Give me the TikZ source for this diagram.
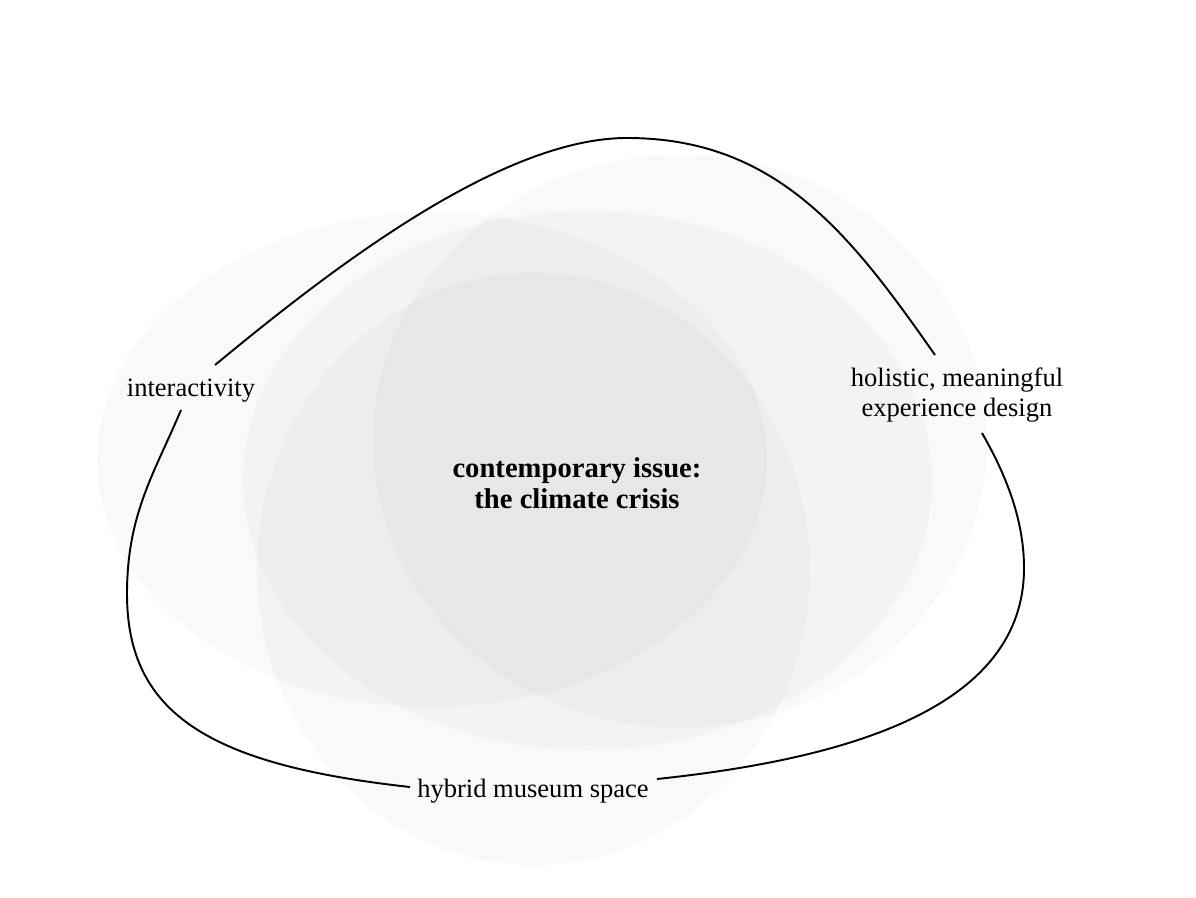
\documentclass[tikz,border=0pt]{standalone}
\usepackage{fontspec}
\setmainfont{Liberation Serif}
\begin{document}
\begin{tikzpicture}[x=0.02cm,y=-0.02cm,
  blob/.style={fill=black,fill opacity=0.024},
  label/.style={inner sep=0pt,align=center,font=\fontsize{15.1}{17.6}\selectfont},
  centre/.style={inner sep=0pt,align=center,font=\fontsize{16.3}{17.6}\selectfont\bfseries},
  loop/.style={draw=black,line width=1.1pt}]
\path[use as bounding box,fill=white] (0,0) rectangle (1196,898);
% overlapping translucent ellipses
\path[blob] (432,460) ellipse [x radius=335, y radius=247];
\path[blob] (587.5,480.5) ellipse [x radius=344.5, y radius=269.5];
\path[blob] (533.5,569) ellipse [x radius=276.5, y radius=296];
\path[blob] (680,441.5) ellipse [x radius=307, y radius=286.5];
% labels
\node[label] (inter) at (191,391) {interactivity};
\node[label] (holi) at (957,395) {holistic, meaningful\\experience design};
\node[label] (hybrid) at (533,791) {hybrid museum space};
\node[centre] (issue) at (577,483) {contemporary issue:\\the climate crisis};
% loop end points
\coordinate (i-out) at (215,365);
\coordinate (top) at (627,138);
\coordinate (h-in) at (935,355);
\coordinate (h-out) at (982,433);
\coordinate (right) at (1024,568);
\coordinate (b-in) at (657,779);
\coordinate (b-out) at (410,787);
\coordinate (left) at (127,594);
\coordinate (i-in) at (181,410);
\draw[loop] (i-out) .. controls (330,270) and (500,138) .. (top)
  .. controls (777,138) and (851,235) .. (h-in);
\draw[loop] (h-out) .. controls (1002,468) and (1024,515) .. (right)
  .. controls (1024,705) and (856,758) .. (b-in);
\draw[loop] (b-out) .. controls (210,765) and (127,714) .. (left)
  .. controls (127,514) and (154,474) .. (i-in);
\end{tikzpicture}
\end{document}
